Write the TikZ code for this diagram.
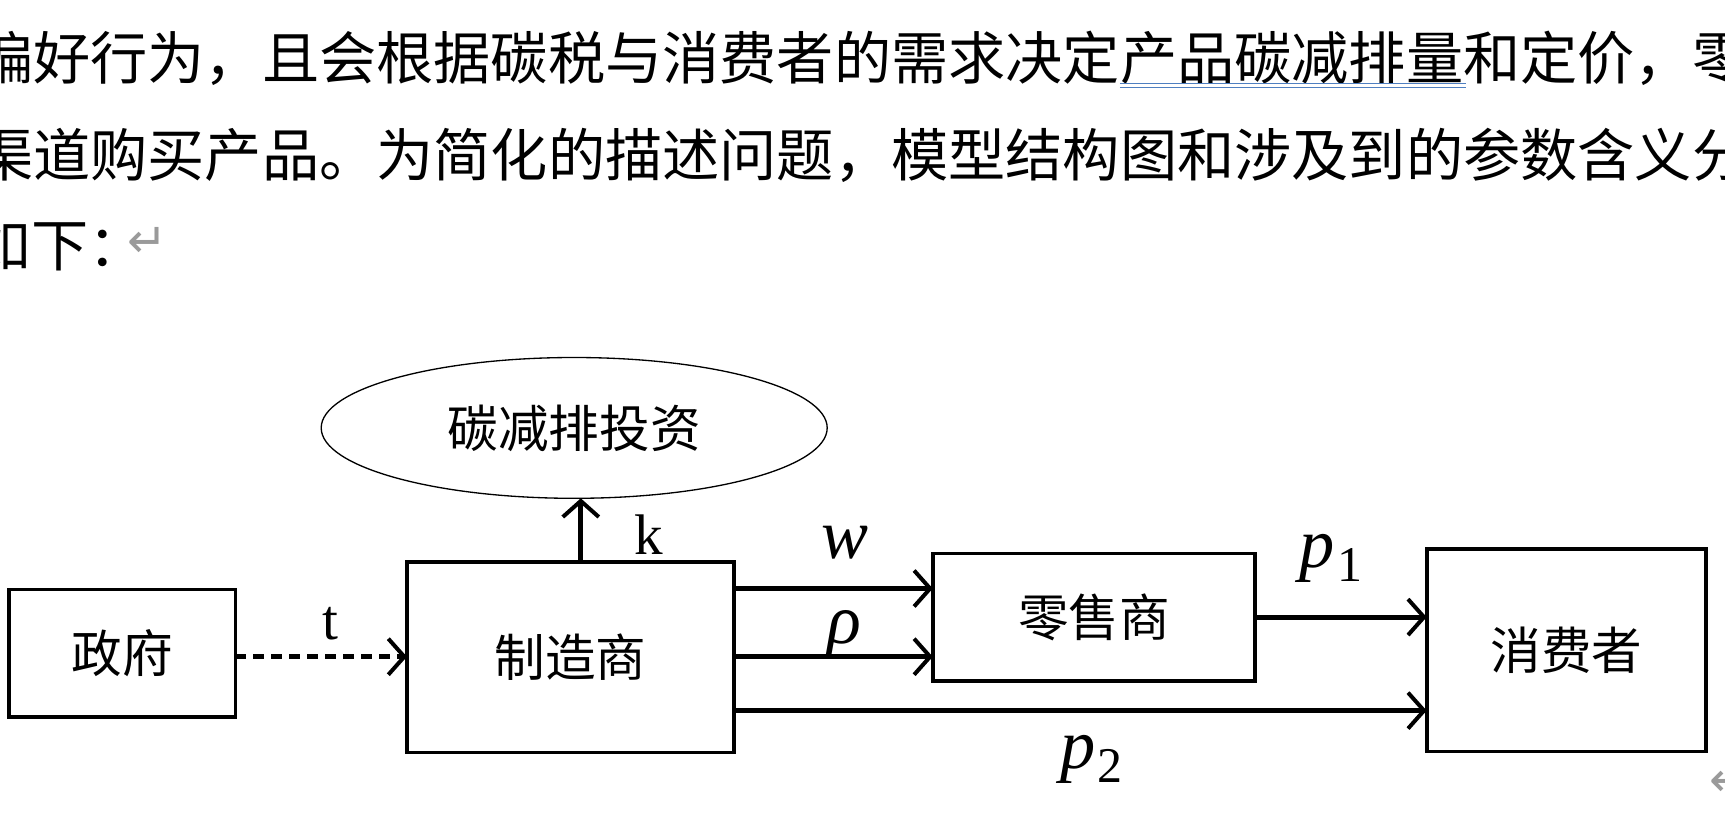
\documentclass[tikz,border=0pt]{standalone}
\usepackage{fontspec}
\setmainfont{Liberation Serif}
\newfontfamily\cjk{Noto Sans CJK SC}
\newfontfamily\dvs{DejaVu Sans}
\usetikzlibrary{arrows.meta,shapes.geometric}
\definecolor{ulblue}{HTML}{4F7FC0}
\definecolor{markgray}{HTML}{9A9A9A}
\begin{document}
\begin{tikzpicture}[x=0.55pt,y=-0.55pt,
  body/.style={anchor=base west,inner sep=0pt,font=\cjk\fontsize{28.6pt}{32pt}\selectfont},
  entity/.style={draw,line width=1.8pt,inner sep=0pt,outer sep=0pt,font=\cjk\fontsize{25.3pt}{30pt}\selectfont},
  invest/.style={draw,ellipse,line width=0.66pt,inner sep=0pt,outer sep=0pt,minimum width=253pt,minimum height=70.4pt,font=\cjk\fontsize{25.3pt}{30pt}\selectfont},
  arr/.style={line width=2.4pt,-{Straight Barb[length=8pt,width=18pt,line width=2pt]}},
  dasharr/.style={arr,dash pattern=on 5.5pt off 3.5pt},
  uplab/.style={inner sep=0pt,font=\fontsize{28.6pt}{32pt}\selectfont},
  mathlab/.style={inner sep=0pt,font=\itshape\fontsize{35.2pt}{40pt}\selectfont},
  retmark/.style={inner sep=0pt,text=markgray,font=\dvs\fontsize{24pt}{26pt}\selectfont}]
\useasboundingbox (0,0) rectangle (1568.2,754.5);
\fill[white] (0,0) rectangle (1568.2,754.5);
\clip (0,0) rectangle (1568.2,754.5);

% running text
\node[body] (l1) at (-22,72) {偏好行为，且会根据碳税与消费者的需求决定产品碳减排量和定价，零};
\node[body] (l2) at (-22,160) {渠道购买产品。为简化的描述问题，模型结构图和涉及到的参数含义分};
\node[body] (l3) at (-24,242) {如下：};
\node[retmark] (ret1) at (134,220) {↵};
\draw[ulblue,line width=0.66pt] (1018,76) -- (1333,76);
\draw[ulblue,line width=0.66pt] (1018,79.5) -- (1333,79.5);

% diagram
\node[entity,minimum width=113.3pt,minimum height=63.8pt] (gov) at (111,594) {政府};
\node[entity,minimum width=163.35pt,minimum height=95.15pt] (mfr) at (518.5,597.5) {制造商};
\node[entity,minimum width=161.15pt,minimum height=63.8pt] (ret) at (994.5,561) {零售商};
\node[entity,minimum width=139.7pt,minimum height=101.2pt] (cons) at (1424,591) {消费者};
\node[invest] (inv) at (522,389) {碳减排投资};

\draw[dasharr] (gov.east |- 0,597) -- (mfr.west |- 0,597);
\draw[arr] (mfr.north -| 528,0) -- (inv.south -| 528,0);
\draw[arr] (mfr.east |- 0,535) -- (ret.west |- 0,535);
\draw[arr] (mfr.east |- 0,597) -- (ret.west |- 0,597);
\draw[arr] (ret.east) -- (cons.west |- ret.east);
\draw[arr] (mfr.east |- 0,646) -- (cons.west |- 0,646);

\node[uplab] (tl) at (300,567) {t};
\node[uplab] (kl) at (590,486) {k};
\node[mathlab] (wl) at (768,493) {w};
\node[mathlab] (rl) at (768,577) {ρ};
\node[mathlab] (p1l) at (1210,508) {p\kern1pt\raisebox{-0.2em}{\upshape\fontsize{25pt}{28pt}\selectfont 1}};
\node[mathlab] (p2l) at (992,690) {p\kern1pt\raisebox{-0.2em}{\upshape\fontsize{25pt}{28pt}\selectfont 2}};
\node[retmark] (ret2) at (1572,710) {↵};
\end{tikzpicture}
\end{document}
